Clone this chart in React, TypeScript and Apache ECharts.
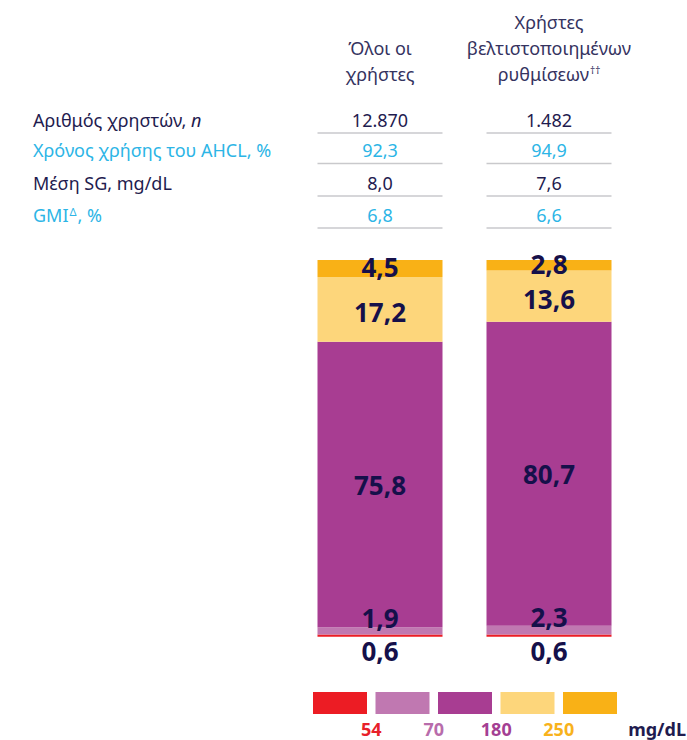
import React, { useEffect, useRef } from "react";
import * as echarts from "echarts";

// ---- data ----
const categories = ["Όλοι οι χρήστες", "Χρήστες βελτιστοποιημένων ρυθμίσεων"];
const below54 = [0.6, 0.6];
const range54to70 = [1.9, 2.3];
const range70to180 = [75.8, 80.7];
const range180to250 = [17.2, 13.6];
const above250 = [4.5, 2.8];

const rowLabelsRich = [
  "{n|Αριθμός χρηστών, }{ni|n}",
  "{c|Χρόνος χρήσης του AHCL, %}",
  "{n|Μέση SG, mg/dL}",
  "{c|GMI}{csup|Δ}{c|, %}",
];
const rowValuesAll = [12870, 92.3, 8.0, 6.8];
const rowValuesOpt = [1482, 94.9, 7.6, 6.6];
const legendThresholds = ["54", "70", "180", "250"];
const legendUnit = "mg/dL";

// ---- styles ----
const NAVY = "#1f1c4f";
const CYAN = "#2cb5e6";
const LABEL = "#15104a";
const HEAD = "#35335f";
const FONT = "'Noto Sans', 'DejaVu Sans', sans-serif";
const colors = ["#ec1c24", "#c078b1", "#a83d92", "#fdd67b", "#f9b116"];
const rowColors = [NAVY, CYAN, NAVY, CYAN];
const thresholdColors = ["#e8202a", "#b86cab", "#a43f93", "#f8b21c"];

const fmt = (v: number) => {
  if (v >= 1000) {
    return String(Math.round(v)).replace(/\B(?=(\d{3})+(?!\d))/g, ".");
  }
  return v.toFixed(1).replace(".", ",");
};

export default function App() {
  const ref = useRef<HTMLDivElement>(null);
  useEffect(() => {
    if (!ref.current) return;
    const chart = echarts.init(ref.current, undefined, { renderer: "svg" });

    const labelBase = {
      show: true,
      formatter: (p: any) => fmt(p.value),
      fontFamily: FONT,
      fontWeight: "bold" as const,
      fontSize: 26,
      lineHeight: 26,
      color: LABEL,
    };

    const mk = (name: string, data: number[], color: string, label: any) => ({
      name,
      type: "bar" as const,
      stack: "tir",
      data,
      barWidth: 125,
      itemStyle: { color },
      label: { ...labelBase, ...label },
      emphasis: { disabled: true },
    });

    chart.setOption({
      animation: false,
      grid: { left: 295.5, right: 53.5, top: 260, bottom: 103.3 },
      xAxis: { type: "category", data: categories, show: false },
      yAxis: { type: "value", min: 0, max: 100, show: false },
      series: [
        mk("<54", below54, colors[0], { position: "bottom", distance: 1 }),
        mk("54–70", range54to70, colors[1], { position: "inside", offset: [0, -13] }),
        mk("70–180", range70to180, colors[2], { position: "inside" }),
        mk("180–250", range180to250, colors[3], { position: "inside", offset: [0, 3] }),
        mk(">250", above250, colors[4], { position: "inside", offset: [0, -1] }),
      ],
    });

    const centers = categories.map((_, i) => chart.convertToPixel({ xAxisIndex: 0 }, i) as number);
    const halfW = 62.5;
    const rowY = [120, 150, 183, 215];
    const lineY = [133, 163.5, 196, 228];
    const FS = 18;

    const graphic: any[] = [];
    // headers
    graphic.push({
      type: "text",
      x: centers[0],
      y: 61,
      style: {
        text: "Όλοι οι\nχρήστες",
        align: "center",
        verticalAlign: "middle",
        font: `${FS}px ${FONT}`,
        lineHeight: 26,
        fill: HEAD,
      },
    });
    graphic.push({
      type: "text",
      x: centers[1],
      y: 48,
      style: {
        text: "{h|Χρήστες}\n{h|βελτιστοποιημένων}\n{h|ρυθμίσεων}{hs|††}",
        align: "center",
        verticalAlign: "middle",
        lineHeight: 26,
        rich: {
          h: { fontFamily: FONT, fontSize: FS, fill: HEAD, lineHeight: 26 },
          hs: { fontFamily: FONT, fontSize: 10, fill: HEAD, lineHeight: 14, verticalAlign: "top", padding: [4, 0, 0, 1] },
        },
      },
    });
    // rows
    rowLabelsRich.forEach((t, i) => {
      graphic.push({
        type: "text",
        x: 33,
        y: rowY[i],
        style: {
          text: t,
          align: "left",
          verticalAlign: "middle",
          rich: {
            n: { fontFamily: FONT, fontSize: FS, fill: NAVY, lineHeight: 22 },
            ni: { fontFamily: FONT, fontSize: FS, fill: NAVY, fontStyle: "italic", lineHeight: 22 },
            c: { fontFamily: FONT, fontSize: FS, fill: CYAN, lineHeight: 22 },
            csup: { fontFamily: FONT, fontSize: 11, fill: CYAN, lineHeight: 12, verticalAlign: "top", padding: [2, 1, 0, 1] },
          },
        },
      });
      [rowValuesAll[i], rowValuesOpt[i]].forEach((v, j) => {
        graphic.push({
          type: "text",
          x: centers[j],
          y: rowY[i],
          style: {
            text: fmt(v),
            align: "center",
            verticalAlign: "middle",
            font: `${FS}px ${FONT}`,
            fill: rowColors[i],
          },
        });
        graphic.push({
          type: "line",
          shape: { x1: centers[j] - halfW, y1: lineY[i], x2: centers[j] + halfW, y2: lineY[i] },
          style: { stroke: "#c9c9cc", lineWidth: 1.5 },
        });
      });
    });
    // legend
    const lx0 = 313;
    const step = 62.5;
    const bw = 54;
    colors.forEach((c, i) => {
      graphic.push({
        type: "rect",
        shape: { x: lx0 + i * step, y: 692, width: bw, height: 22 },
        style: { fill: c },
      });
    });
    legendThresholds.forEach((t, i) => {
      const bx = lx0 + i * step + bw + (step - bw) / 2;
      graphic.push({
        type: "text",
        x: bx,
        y: 729,
        style: {
          text: t,
          align: "center",
          verticalAlign: "middle",
          font: `bold 18px ${FONT}`,
          lineHeight: 18,
          fill: thresholdColors[i],
        },
      });
    });
    graphic.push({
      type: "text",
      x: 686,
      y: 729,
      style: {
        text: legendUnit,
        align: "right",
        verticalAlign: "middle",
        font: `bold 18px ${FONT}`,
        lineHeight: 18,
        fill: NAVY,
      },
    });

    chart.setOption({ graphic });

    return () => chart.dispose();
  }, []);

  return (
    <div
      ref={ref}
      style={{ position: "absolute", left: 0, top: 0, width: 687, height: 740, background: "#fff" }}
    />
  );
}
